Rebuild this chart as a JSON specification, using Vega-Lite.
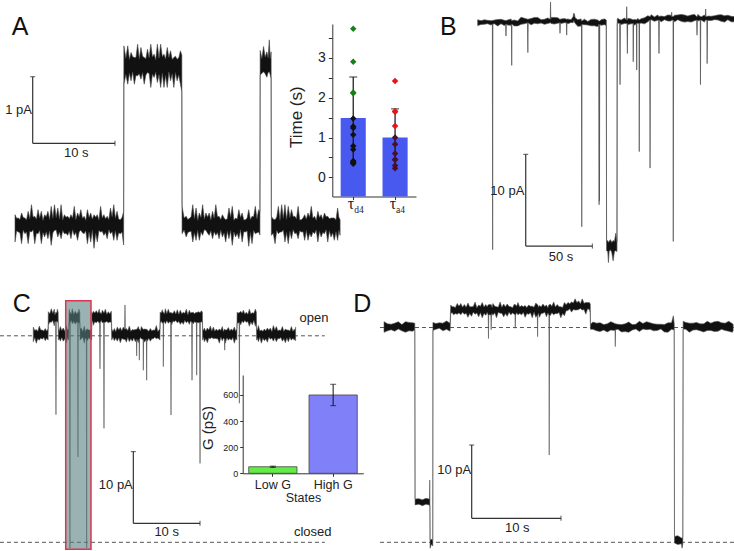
{
"$schema":"https://vega.github.io/schema/vega-lite/v6.json",
"width":734,"height":551,"autosize":{"type":"none"},"padding":0,
"config":{"view":{"stroke":null},"text":{"font":"Liberation Sans"},"axis":{"labelFont":"Liberation Sans","titleFont":"Liberation Sans","grid":false}},
"datasets":{
"A":[{"t":0,"i":-0.255,"i2":0.155},{"t":0.4,"i":-0.105,"i2":0.105},{"t":0.8,"i":-0.28,"i2":0.18},{"t":1.2,"i":-0.13,"i2":0.105},{"t":1.6,"i":-0.28,"i2":0.205},{"t":2,"i":-0.105,"i2":0.305},{"t":2.4,"i":-0.28,"i2":0.13},{"t":2.8,"i":-0.13,"i2":0.23},{"t":3.2,"i":-0.28,"i2":0.205},{"t":3.6,"i":-0.18,"i2":0.155},{"t":4,"i":-0.205,"i2":0.205},{"t":4.4,"i":-0.305,"i2":0.28},{"t":4.8,"i":-0.08,"i2":0.305},{"t":5.2,"i":-0.18,"i2":0.255},{"t":5.6,"i":-0.205,"i2":0.305},{"t":6,"i":-0.13,"i2":0.155},{"t":6.4,"i":-0.155,"i2":0.13},{"t":6.8,"i":-0.205,"i2":0.155},{"t":7.2,"i":-0.155,"i2":0.28},{"t":7.6,"i":-0.23,"i2":0.18},{"t":8,"i":-0.08,"i2":0.23},{"t":8.4,"i":-0.13,"i2":0.13},{"t":8.8,"i":-0.28,"i2":0.23},{"t":9.2,"i":-0.255,"i2":0.18},{"t":9.6,"i":-0.35,"i2":0.155},{"t":10,"i":-0.255,"i2":0.155},{"t":10.4,"i":-0.105,"i2":0.28},{"t":10.8,"i":-0.155,"i2":0.155},{"t":11.2,"i":-0.205,"i2":0.13},{"t":11.6,"i":-0.13,"i2":0.255},{"t":12,"i":-0.23,"i2":0.305},{"t":12.4,"i":-0.23,"i2":0.205},{"t":12.8,"i":-0.13,"i2":0.08},{"t":13.2,"i":-0.3,"i2":0.2},
{"t":13.23,"i":2.115,"i2":2.69},{"t":13.7,"i":2.115,"i2":2.69},{"t":14.1,"i":2.165,"i2":2.59},{"t":14.5,"i":2.115,"i2":2.515},{"t":14.9,"i":2.24,"i2":2.715},{"t":15.3,"i":2.19,"i2":2.665},{"t":15.7,"i":2.115,"i2":2.515},{"t":16.1,"i":2.29,"i2":2.64},{"t":16.5,"i":2.065,"i2":2.715},{"t":16.9,"i":2.215,"i2":2.565},{"t":17.3,"i":2.14,"i2":2.715},{"t":17.7,"i":2.065,"i2":2.715},{"t":18.1,"i":2.065,"i2":2.565},{"t":18.5,"i":2.065,"i2":2.665},{"t":18.9,"i":2.165,"i2":2.615},{"t":19.3,"i":2.065,"i2":2.515},{"t":19.7,"i":2.165,"i2":2.49},{"t":20.1,"i":2.115,"i2":2.615},{"t":20.27,"i":2.0,"i2":2.55},
{"t":20.3,"i":-0.13,"i2":0.28},{"t":20.8,"i":-0.18,"i2":0.13},{"t":21.2,"i":-0.1,"i2":0.1},{"t":21.6,"i":-0.255,"i2":0.305},{"t":22,"i":-0.23,"i2":0.255},{"t":22.4,"i":-0.23,"i2":0.18},{"t":22.8,"i":-0.155,"i2":0.305},{"t":23.2,"i":-0.08,"i2":0.18},{"t":23.6,"i":-0.155,"i2":0.18},{"t":24,"i":-0.205,"i2":0.205},{"t":24.4,"i":-0.155,"i2":0.305},{"t":24.8,"i":-0.205,"i2":0.13},{"t":25.2,"i":-0.18,"i2":0.155},{"t":25.6,"i":-0.255,"i2":0.08},{"t":26,"i":-0.205,"i2":0.255},{"t":26.4,"i":-0.305,"i2":0.28},{"t":26.8,"i":-0.18,"i2":0.105},{"t":27.2,"i":-0.205,"i2":0.23},{"t":27.6,"i":-0.255,"i2":0.18},{"t":28,"i":-0.105,"i2":0.08},{"t":28.4,"i":-0.32,"i2":0.23},{"t":28.8,"i":-0.28,"i2":0.13},{"t":29.2,"i":-0.13,"i2":0.28},{"t":29.6,"i":-0.105,"i2":0.23},{"t":29.76,"i":-0.15,"i2":0.2},
{"t":29.79,"i":2.25,"i2":2.62},{"t":30.2,"i":2.3,"i2":2.68},{"t":30.6,"i":2.22,"i2":2.6},{"t":30.9,"i":2.3,"i2":2.78},{"t":31.12,"i":2.2,"i2":2.6},
{"t":31.15,"i":-0.155,"i2":0.13},{"t":31.6,"i":-0.28,"i2":0.08},{"t":32,"i":-0.13,"i2":0.28},{"t":32.4,"i":-0.105,"i2":0.305},{"t":32.8,"i":-0.255,"i2":0.305},{"t":33.2,"i":-0.28,"i2":0.28},{"t":33.6,"i":-0.205,"i2":0.23},{"t":34,"i":-0.13,"i2":0.13},{"t":34.4,"i":-0.205,"i2":0.28},{"t":34.8,"i":-0.105,"i2":0.08},{"t":35.2,"i":-0.23,"i2":0.155},{"t":35.6,"i":-0.23,"i2":0.18},{"t":36,"i":-0.18,"i2":0.28},{"t":36.4,"i":-0.13,"i2":0.13},{"t":36.8,"i":-0.255,"i2":0.205},{"t":37.2,"i":-0.18,"i2":0.155},{"t":37.6,"i":-0.13,"i2":0.18},{"t":38,"i":-0.255,"i2":0.13},{"t":38.4,"i":-0.18,"i2":0.105},{"t":38.8,"i":-0.23,"i2":0.105},{"t":39.2,"i":-0.23,"i2":0.255},{"t":39.5,"i":-0.155,"i2":0.08},
{"t":0.2,"i":-0.088,"i2":0.1},{"t":0.6,"i":-0.118,"i2":0.082},{"t":1.0,"i":-0.076,"i2":0.112},{"t":1.4,"i":-0.106,"i2":0.076},{"t":1.8,"i":-0.094,"i2":0.094},{"t":2.2,"i":-0.07,"i2":0.118},{"t":2.6,"i":-0.124,"i2":0.088},{"t":3.0,"i":-0.082,"i2":0.106},{"t":3.4,"i":-0.112,"i2":0.07},{"t":3.8,"i":-0.1,"i2":0.124},{"t":4.2,"i":-0.088,"i2":0.082},{"t":4.6,"i":-0.118,"i2":0.1},{"t":5.0,"i":-0.076,"i2":0.112},{"t":5.4,"i":-0.106,"i2":0.088},{"t":5.8,"i":-0.082,"i2":0.076},{"t":6.2,"i":-0.124,"i2":0.118},{"t":6.6,"i":-0.094,"i2":0.094},{"t":7.0,"i":-0.07,"i2":0.106},{"t":7.4,"i":-0.112,"i2":0.082},{"t":7.8,"i":-0.1,"i2":0.124},{"t":8.2,"i":-0.118,"i2":0.1},{"t":8.6,"i":-0.088,"i2":0.07},{"t":9.0,"i":-0.106,"i2":0.112},{"t":9.4,"i":-0.076,"i2":0.088},{"t":9.8,"i":-0.124,"i2":0.118},{"t":10.2,"i":-0.082,"i2":0.076},{"t":10.6,"i":-0.094,"i2":0.106},{"t":11.0,"i":-0.112,"i2":0.094},{"t":11.4,"i":-0.07,"i2":0.082},{"t":11.8,"i":-0.1,"i2":0.124},{"t":12.2,"i":-0.088,"i2":0.1},{"t":12.6,"i":-0.118,"i2":0.088},{"t":13.0,"i":-0.106,"i2":0.112},
{"t":13.47,"i":2.258,"i2":2.504},{"t":13.9,"i":2.282,"i2":2.486},{"t":14.3,"i":2.3,"i2":2.528},{"t":14.7,"i":2.246,"i2":2.516},{"t":15.1,"i":2.27,"i2":2.492},{"t":15.5,"i":2.288,"i2":2.534},{"t":15.9,"i":2.252,"i2":2.498},{"t":16.3,"i":2.276,"i2":2.51},{"t":16.7,"i":2.264,"i2":2.522},{"t":17.1,"i":2.294,"i2":2.48},{"t":17.5,"i":2.258,"i2":2.504},{"t":17.9,"i":2.282,"i2":2.528},{"t":18.3,"i":2.246,"i2":2.492},{"t":18.7,"i":2.3,"i2":2.516},{"t":19.1,"i":2.27,"i2":2.486},{"t":19.5,"i":2.288,"i2":2.534},{"t":19.9,"i":2.252,"i2":2.51},
{"t":20.55,"i":-0.076,"i2":0.106},{"t":21.0,"i":-0.112,"i2":0.082},{"t":21.4,"i":-0.094,"i2":0.124},{"t":21.8,"i":-0.118,"i2":0.094},{"t":22.2,"i":-0.082,"i2":0.07},{"t":22.6,"i":-0.106,"i2":0.112},{"t":23.0,"i":-0.07,"i2":0.088},{"t":23.4,"i":-0.124,"i2":0.118},{"t":23.8,"i":-0.088,"i2":0.076},{"t":24.2,"i":-0.1,"i2":0.1},{"t":24.6,"i":-0.112,"i2":0.124},{"t":25.0,"i":-0.076,"i2":0.082},{"t":25.4,"i":-0.118,"i2":0.106},{"t":25.8,"i":-0.094,"i2":0.094},{"t":26.2,"i":-0.082,"i2":0.118},{"t":26.6,"i":-0.106,"i2":0.07},{"t":27.0,"i":-0.124,"i2":0.088},{"t":27.4,"i":-0.07,"i2":0.112},{"t":27.8,"i":-0.1,"i2":0.076},{"t":28.2,"i":-0.088,"i2":0.1},{"t":28.6,"i":-0.112,"i2":0.082},{"t":29.0,"i":-0.082,"i2":0.124},{"t":29.4,"i":-0.118,"i2":0.094},
{"t":30.0,"i":2.28,"i2":2.5},{"t":30.4,"i":2.27,"i2":2.52},{"t":30.75,"i":2.29,"i2":2.51},{"t":31.0,"i":2.26,"i2":2.5},
{"t":31.38,"i":-0.124,"i2":0.088},{"t":31.8,"i":-0.082,"i2":0.118},{"t":32.2,"i":-0.106,"i2":0.07},{"t":32.6,"i":-0.076,"i2":0.1},{"t":33.0,"i":-0.112,"i2":0.082},{"t":33.4,"i":-0.094,"i2":0.112},{"t":33.8,"i":-0.07,"i2":0.124},{"t":34.2,"i":-0.118,"i2":0.094},{"t":34.6,"i":-0.088,"i2":0.076},{"t":35.0,"i":-0.1,"i2":0.106},{"t":35.4,"i":-0.082,"i2":0.088},{"t":35.8,"i":-0.124,"i2":0.118},{"t":36.2,"i":-0.106,"i2":0.1},{"t":36.6,"i":-0.076,"i2":0.07},{"t":37.0,"i":-0.094,"i2":0.112},{"t":37.4,"i":-0.112,"i2":0.082},{"t":37.8,"i":-0.07,"i2":0.124},{"t":38.2,"i":-0.088,"i2":0.094},{"t":38.6,"i":-0.118,"i2":0.106},{"t":39.0,"i":-0.1,"i2":0.076},{"t":39.35,"i":-0.082,"i2":0.118}],
"B":[{"t":0,"i":-0.36,"i2":0.27},{"t":2.5,"i":-0.24,"i2":0.18},{"t":5,"i":-0.21,"i2":0.27},{"t":7.5,"i":-0.15,"i2":0.21},{"t":10,"i":-0.3,"i2":0.18},{"t":11,"i":-0.2,"i2":0.2},{"t":11.2,"i":-24.8,"i2":0.2},{"t":11.4,"i":-0.2,"i2":0.2},{"t":12.5,"i":-0.15,"i2":0.24},{"t":15,"i":-0.39,"i2":0.3},{"t":17.5,"i":-0.15,"i2":0.33},{"t":20,"i":-0.36,"i2":0.21},{"t":21,"i":-0.2,"i2":0.2},{"t":21.2,"i":-1.5,"i2":0.2},{"t":21.4,"i":-0.2,"i2":0.2},{"t":22.5,"i":-0.3,"i2":0.24},{"t":25,"i":-0.33,"i2":0.36},{"t":25.3,"i":-0.2,"i2":0.2},{"t":25.5,"i":-4.7,"i2":0.2},{"t":25.7,"i":-0.2,"i2":0.2},{"t":27.5,"i":-0.39,"i2":0.24},{"t":30,"i":-0.39,"i2":0.15},{"t":32.5,"i":-0.22,"i2":0.56},{"t":35,"i":-0.16,"i2":0.44},{"t":37.4,"i":-0.06,"i2":0.34},{"t":37.6,"i":-3.3,"i2":0.34},{"t":37.8,"i":-0.06,"i2":0.34},{"t":40,"i":-0.28,"i2":0.41},{"t":42.5,"i":-0.1,"i2":0.53},{"t":45,"i":-0.16,"i2":0.53},{"t":47.5,"i":-0.07,"i2":0.29},{"t":50,"i":-0.22,"i2":0.32},{"t":52.5,"i":-0.13,"i2":0.47},{"t":54.4,"i":-0.06,"i2":0.34},{"t":54.6,"i":-0.06,"i2":2.2},{"t":54.8,"i":-0.06,"i2":0.34},{"t":55,"i":-0.13,"i2":0.53},{"t":57.5,"i":-0.19,"i2":0.53},{"t":60,"i":-0.1,"i2":0.5},{"t":61.5,"i":-0.06,"i2":0.34},{"t":61.7,"i":-1.2,"i2":0.34},{"t":61.9,"i":-0.06,"i2":0.34},{"t":62.5,"i":-0.13,"i2":0.35},{"t":65,"i":-0.04,"i2":0.41},{"t":66.5,"i":-0.06,"i2":0.34},{"t":66.7,"i":-1.4,"i2":0.34},{"t":66.9,"i":-0.06,"i2":0.34},{"t":67.5,"i":-0.16,"i2":0.35},{"t":70,"i":-0.01,"i2":0.29},{"t":71.5,"i":-0.05,"i2":0.6},{"t":72,"i":0.2,"i2":1.0},{"t":72.5,"i":0.0,"i2":0.9},{"t":73,"i":-0.1,"i2":0.5},{"t":75,"i":-0.44,"i2":0.28},{"t":77.5,"i":-0.41,"i2":0.37},{"t":77.8,"i":-0.25,"i2":0.15},{"t":78,"i":-22.3,"i2":0.15},{"t":78.2,"i":-0.25,"i2":0.15},{"t":80,"i":-0.26,"i2":0.34},{"t":82.5,"i":-0.29,"i2":0.1},{"t":85,"i":-0.38,"i2":0.31},{"t":87.5,"i":-0.38,"i2":0.34},{"t":90,"i":-0.47,"i2":0.25},{"t":90.8,"i":-0.25,"i2":0.15},{"t":91,"i":-19.9,"i2":0.15},{"t":91.15,"i":-0.25,"i2":0.15},{"t":91.3,"i":-19.5,"i2":0.15},{"t":91.5,"i":-0.25,"i2":0.15},{"t":92.5,"i":-0.32,"i2":0.28},{"t":95,"i":-0.26,"i2":0.37},{"t":96.4,"i":-0.35,"i2":0.25},{"t":96.6,"i":-24.9,"i2":-23.9},{"t":97.5,"i":-25.0,"i2":-23.8},{"t":98,"i":-26.2,"i2":-24.0},{"t":98.5,"i":-25.0,"i2":-23.9},{"t":99.5,"i":-24.8,"i2":-23.7},{"t":100.5,"i":-25.1,"i2":-24.0},{"t":101.5,"i":-26.0,"i2":-23.8},{"t":102.5,"i":-25.0,"i2":-23.9},{"t":103.5,"i":-24.9,"i2":-23.0},{"t":104.4,"i":-25.0,"i2":-23.9},{"t":104.6,"i":-0.15,"i2":0.35},{"t":105,"i":-0.08,"i2":0.43},{"t":106.5,"i":-0.13,"i2":0.27},{"t":106.7,"i":-6.8,"i2":0.27},{"t":106.9,"i":-0.13,"i2":0.27},{"t":107.5,"i":-0.23,"i2":0.25},{"t":110,"i":-0.14,"i2":0.46},{"t":111.5,"i":-0.13,"i2":0.27},{"t":111.7,"i":-0.13,"i2":1.7},{"t":111.9,"i":-0.13,"i2":0.27},{"t":112.2,"i":-3.4,"i2":0.27},{"t":112.4,"i":-0.13,"i2":0.27},{"t":112.5,"i":-0.23,"i2":0.43},{"t":115,"i":-0.17,"i2":0.37},{"t":116.4,"i":-0.13,"i2":0.27},{"t":116.6,"i":-4.3,"i2":0.27},{"t":116.8,"i":-0.13,"i2":0.27},{"t":117.5,"i":-0.32,"i2":0.31},{"t":119,"i":-0.13,"i2":0.27},{"t":119.2,"i":-5.2,"i2":0.27},{"t":119.4,"i":-0.13,"i2":0.27},{"t":120,"i":-0.11,"i2":0.43},{"t":120.9,"i":-0.13,"i2":0.27},{"t":121.1,"i":-14.1,"i2":0.27},{"t":121.3,"i":-0.13,"i2":0.27},{"t":122.5,"i":-0.08,"i2":0.4},{"t":125,"i":-0.17,"i2":0.49},{"t":127.5,"i":0.05,"i2":0.71},{"t":129,"i":0.24,"i2":0.64},{"t":129.2,"i":-15.9,"i2":0.64},{"t":129.4,"i":0.24,"i2":0.64},{"t":130,"i":0.29,"i2":0.83},{"t":132.5,"i":0.11,"i2":0.59},{"t":135,"i":0.23,"i2":0.8},{"t":135.7,"i":0.24,"i2":0.64},{"t":135.9,"i":-3.4,"i2":0.64},{"t":136.1,"i":0.24,"i2":0.64},{"t":137.5,"i":0.05,"i2":0.68},{"t":140,"i":0.29,"i2":0.62},{"t":142.5,"i":0.14,"i2":0.8},{"t":145,"i":0.14,"i2":0.77},{"t":145.2,"i":0.24,"i2":0.64},{"t":145.4,"i":0.24,"i2":1.1},{"t":145.6,"i":0.24,"i2":0.64},{"t":146.4,"i":0.24,"i2":0.64},{"t":146.6,"i":-23.9,"i2":0.64},{"t":146.8,"i":0.24,"i2":0.64},{"t":147.5,"i":0.05,"i2":0.77},{"t":150,"i":0.29,"i2":0.8},{"t":152.5,"i":0.11,"i2":0.86},{"t":155,"i":0.02,"i2":0.8},{"t":157.5,"i":0.08,"i2":0.68},{"t":160,"i":0.02,"i2":0.8},{"t":162.5,"i":0.17,"i2":0.86},{"t":164.2,"i":0.24,"i2":0.64},{"t":164.4,"i":-1.4,"i2":0.64},{"t":164.6,"i":0.24,"i2":0.64},{"t":165,"i":0.14,"i2":0.86},{"t":166.8,"i":0.24,"i2":0.64},{"t":167,"i":-6.8,"i2":0.64},{"t":167.2,"i":0.24,"i2":0.64},{"t":167.5,"i":0.26,"i2":0.59},{"t":170,"i":0.02,"i2":0.8},{"t":170.7,"i":0.24,"i2":0.64},{"t":170.9,"i":0.24,"i2":1.45},{"t":171.1,"i":0.24,"i2":0.64},{"t":171.8,"i":0.24,"i2":0.64},{"t":172,"i":-4.5,"i2":0.64},{"t":172.2,"i":0.24,"i2":0.64},{"t":172.5,"i":0.2,"i2":0.68},{"t":175,"i":0.2,"i2":0.65},{"t":177.5,"i":0.29,"i2":0.71},{"t":180,"i":0.26,"i2":0.8},{"t":182.5,"i":0.11,"i2":0.83},{"t":185,"i":0.02,"i2":0.71},{"t":187.5,"i":0.29,"i2":0.77},{"t":190,"i":0.05,"i2":0.65},{"t":192.5,"i":0.05,"i2":0.62}],
"C":[{"t":0,"i":27.98,"i2":30.02},{"t":0.45,"i":27.77,"i2":29.67},{"t":0.9,"i":28.19,"i2":30.16},{"t":1.35,"i":28.33,"i2":29.6},{"t":1.8,"i":28.12,"i2":29.81},{"t":2.22,"i":28.2,"i2":29.8},{"t":2.25,"i":30.26,"i2":32.16},{"t":2.7,"i":30.68,"i2":32.58},{"t":3.15,"i":30.19,"i2":32.51},{"t":3.36,"i":30.65,"i2":32.05},{"t":3.4,"i":17.8,"i2":32.05},{"t":3.44,"i":30.65,"i2":32.05},{"t":3.6,"i":30.75,"i2":32.51},{"t":3.73,"i":30.6,"i2":32.1},{"t":3.76,"i":28.2,"i2":29.8},{"t":4.05,"i":28.05,"i2":30.09},{"t":4.5,"i":28.05,"i2":29.88},{"t":4.95,"i":27.77,"i2":30.23},{"t":5.33,"i":28.2,"i2":29.8},{"t":5.36,"i":30.6,"i2":32.1},{"t":5.4,"i":30.12,"i2":32.51},{"t":5.46,"i":30.65,"i2":32.05},{"t":5.5,"i":-0.8,"i2":32.05},{"t":5.54,"i":30.65,"i2":32.05},{"t":5.85,"i":30.47,"i2":32.58},{"t":6.3,"i":30.4,"i2":32.23},{"t":6.66,"i":30.65,"i2":32.05},{"t":6.7,"i":11.9,"i2":32.05},{"t":6.74,"i":30.65,"i2":32.05},{"t":6.85,"i":30.54,"i2":32.51},{"t":6.98,"i":30.6,"i2":32.1},{"t":7.01,"i":28.2,"i2":29.8},{"t":7.2,"i":28.4,"i2":29.88},{"t":7.65,"i":27.77,"i2":30.16},{"t":7.96,"i":28.3,"i2":29.7},{"t":8,"i":-0.8,"i2":29.7},{"t":8.04,"i":28.3,"i2":29.7},{"t":8.1,"i":28.12,"i2":29.74},{"t":8.55,"i":28.33,"i2":29.6},{"t":8.74,"i":28.2,"i2":29.8},{"t":8.77,"i":30.6,"i2":32.1},{"t":9,"i":30.26,"i2":32.23},{"t":9.45,"i":30.61,"i2":32.3},{"t":9.9,"i":30.54,"i2":32.51},{"t":9.96,"i":30.65,"i2":32.05},{"t":10,"i":24.2,"i2":32.05},{"t":10.04,"i":30.65,"i2":32.05},{"t":10.35,"i":30.61,"i2":32.37},{"t":10.56,"i":30.65,"i2":32.05},{"t":10.6,"i":15.9,"i2":32.05},{"t":10.64,"i":30.65,"i2":32.05},{"t":10.8,"i":30.68,"i2":32.51},{"t":11.25,"i":30.61,"i2":32.16},{"t":11.7,"i":30.68,"i2":32.23},{"t":11.76,"i":28.2,"i2":29.8},{"t":12.15,"i":28.12,"i2":29.81},{"t":12.6,"i":28.05,"i2":30.02},{"t":13.05,"i":27.84,"i2":29.95},{"t":13.5,"i":28.33,"i2":30.02},{"t":13.71,"i":28.3,"i2":29.7},{"t":13.75,"i":28.3,"i2":33.1},{"t":13.79,"i":28.3,"i2":29.7},{"t":13.95,"i":27.91,"i2":29.81},{"t":14.4,"i":27.98,"i2":30.16},{"t":14.85,"i":28.05,"i2":29.67},{"t":15.3,"i":27.98,"i2":29.67},{"t":15.46,"i":28.3,"i2":29.7},{"t":15.5,"i":26.0,"i2":29.7},{"t":15.54,"i":28.3,"i2":29.7},{"t":15.75,"i":27.84,"i2":30.09},{"t":15.86,"i":28.3,"i2":29.7},{"t":15.9,"i":25.4,"i2":29.7},{"t":15.94,"i":28.3,"i2":29.7},{"t":16.2,"i":28.4,"i2":30.09},{"t":16.46,"i":28.3,"i2":29.7},{"t":16.5,"i":24.0,"i2":29.7},{"t":16.54,"i":28.3,"i2":29.7},{"t":16.65,"i":27.91,"i2":29.74},{"t":16.96,"i":28.3,"i2":29.7},{"t":17,"i":22.6,"i2":29.7},{"t":17.04,"i":28.3,"i2":29.7},{"t":17.1,"i":28.05,"i2":29.6},{"t":17.55,"i":28.05,"i2":29.81},{"t":18,"i":28.4,"i2":29.6},{"t":18.45,"i":28.4,"i2":30.23},{"t":18.9,"i":28.33,"i2":29.67},{"t":18.99,"i":28.2,"i2":29.8},{"t":19.02,"i":30.6,"i2":32.1},{"t":19.35,"i":30.54,"i2":32.44},{"t":19.46,"i":30.65,"i2":32.05},{"t":19.5,"i":24.5,"i2":32.05},{"t":19.54,"i":30.65,"i2":32.05},{"t":19.8,"i":30.47,"i2":32.58},{"t":20.25,"i":30.54,"i2":32.51},{"t":20.61,"i":30.65,"i2":32.05},{"t":20.65,"i":17.75,"i2":32.05},{"t":20.69,"i":30.65,"i2":32.05},{"t":20.75,"i":30.33,"i2":31.95},{"t":21.15,"i":30.75,"i2":32.3},{"t":21.6,"i":30.61,"i2":32.44},{"t":22.05,"i":30.4,"i2":32.37},{"t":22.5,"i":30.4,"i2":32.09},{"t":22.95,"i":30.61,"i2":32.51},{"t":23.4,"i":30.4,"i2":32.37},{"t":23.76,"i":30.65,"i2":32.05},{"t":23.8,"i":22.6,"i2":32.05},{"t":23.84,"i":30.65,"i2":32.05},{"t":24,"i":30.47,"i2":32.09},{"t":24.3,"i":30.68,"i2":32.02},{"t":24.46,"i":30.65,"i2":32.05},{"t":24.5,"i":23.3,"i2":32.05},{"t":24.54,"i":30.65,"i2":32.05},{"t":24.75,"i":30.61,"i2":32.16},{"t":24.96,"i":30.65,"i2":32.05},{"t":25,"i":11.0,"i2":32.05},{"t":25.04,"i":30.65,"i2":32.05},{"t":25.2,"i":30.75,"i2":32.3},{"t":25.36,"i":30.6,"i2":32.1},{"t":25.39,"i":28.2,"i2":29.8},{"t":25.65,"i":27.98,"i2":29.88},{"t":26.1,"i":27.84,"i2":29.88},{"t":26.55,"i":28.4,"i2":30.16},{"t":27,"i":28.4,"i2":30.02},{"t":27.45,"i":28.4,"i2":29.74},{"t":27.9,"i":27.77,"i2":29.74},{"t":28.35,"i":28.12,"i2":30.09},{"t":28.66,"i":28.3,"i2":29.7},{"t":28.7,"i":26.8,"i2":29.7},{"t":28.74,"i":28.3,"i2":29.7},{"t":28.8,"i":27.77,"i2":29.6},{"t":29.25,"i":28.19,"i2":29.95},{"t":29.7,"i":28.19,"i2":29.74},{"t":30.15,"i":27.77,"i2":30.02},{"t":30.53,"i":28.2,"i2":29.8},{"t":30.56,"i":30.6,"i2":32.1},{"t":30.7,"i":30.54,"i2":31.95},{"t":30.86,"i":30.65,"i2":32.05},{"t":30.9,"i":19.4,"i2":32.05},{"t":30.94,"i":30.65,"i2":32.05},{"t":31.1,"i":30.33,"i2":32.23},{"t":31.5,"i":30.61,"i2":32.37},{"t":31.95,"i":30.68,"i2":32.09},{"t":32.4,"i":30.12,"i2":32.51},{"t":32.85,"i":30.33,"i2":32.02},{"t":33.3,"i":30.12,"i2":32.51},{"t":33.45,"i":30.6,"i2":32.1},{"t":33.48,"i":28.2,"i2":29.8},{"t":33.75,"i":27.98,"i2":30.23},{"t":34.2,"i":27.77,"i2":29.6},{"t":34.65,"i":28.12,"i2":29.74},{"t":35.1,"i":27.91,"i2":29.88},{"t":35.55,"i":28.33,"i2":29.88},{"t":36,"i":28.05,"i2":30.23},{"t":36.45,"i":27.98,"i2":30.09},{"t":36.9,"i":28.4,"i2":29.6},{"t":37.35,"i":28.05,"i2":30.09},{"t":37.8,"i":27.84,"i2":29.74},{"t":38.25,"i":27.98,"i2":29.6},{"t":38.7,"i":28.19,"i2":30.09},{"t":39.15,"i":28.19,"i2":29.74},{"t":39.34,"i":28.1,"i2":30.0},
{"t":0.22,"i":28.55,"i2":29.55},{"t":0.67,"i":28.4,"i2":29.42},{"t":1.12,"i":28.5,"i2":29.6},{"t":1.57,"i":28.58,"i2":29.48},{"t":2.0,"i":28.45,"i2":29.45},{"t":2.47,"i":30.73,"i2":31.87},{"t":2.92,"i":30.95,"i2":31.93},{"t":3.25,"i":30.83,"i2":31.75},{"t":3.52,"i":30.87,"i2":31.97},{"t":3.9,"i":28.42,"i2":29.5},{"t":4.27,"i":28.55,"i2":29.55},{"t":4.72,"i":28.4,"i2":29.42},{"t":5.14,"i":28.5,"i2":29.6},{"t":5.7,"i":30.93,"i2":31.83},{"t":6.07,"i":30.8,"i2":31.8},{"t":6.5,"i":30.73,"i2":31.87},{"t":7.42,"i":28.6,"i2":29.4},{"t":7.8,"i":28.48,"i2":29.4},{"t":8.32,"i":28.52,"i2":29.62},{"t":8.64,"i":28.42,"i2":29.5},{"t":8.88,"i":30.9,"i2":31.9},{"t":9.22,"i":30.75,"i2":31.97},{"t":9.67,"i":30.85,"i2":31.95},{"t":10.2,"i":30.93,"i2":31.83},{"t":11.02,"i":30.8,"i2":31.8},{"t":11.47,"i":30.73,"i2":31.87},{"t":11.95,"i":28.6,"i2":29.4},{"t":12.37,"i":28.48,"i2":29.4},{"t":12.82,"i":28.52,"i2":29.62},{"t":13.27,"i":28.42,"i2":29.5},{"t":14.17,"i":28.55,"i2":29.55},{"t":14.62,"i":28.4,"i2":29.42},{"t":15.07,"i":28.5,"i2":29.6},{"t":16.07,"i":28.58,"i2":29.48},{"t":17.32,"i":28.45,"i2":29.45},{"t":17.77,"i":28.38,"i2":29.52},{"t":18.22,"i":28.6,"i2":29.58},{"t":18.67,"i":28.48,"i2":29.4},{"t":19.18,"i":30.83,"i2":31.97},{"t":19.67,"i":30.77,"i2":31.85},{"t":20.02,"i":30.9,"i2":31.9},{"t":20.43,"i":30.75,"i2":31.97},{"t":20.95,"i":30.85,"i2":31.95},{"t":21.37,"i":30.93,"i2":31.83},{"t":21.82,"i":30.8,"i2":31.8},{"t":22.27,"i":30.73,"i2":31.87},{"t":22.72,"i":30.95,"i2":31.93},{"t":23.17,"i":30.83,"i2":31.75},{"t":23.58,"i":30.87,"i2":31.97},{"t":24.15,"i":30.77,"i2":31.85},{"t":25.52,"i":28.55,"i2":29.55},{"t":25.87,"i":28.4,"i2":29.42},{"t":26.32,"i":28.5,"i2":29.6},{"t":26.77,"i":28.58,"i2":29.48},{"t":27.22,"i":28.45,"i2":29.45},{"t":27.67,"i":28.38,"i2":29.52},{"t":28.12,"i":28.6,"i2":29.58},{"t":28.5,"i":28.48,"i2":29.4},{"t":29.02,"i":28.52,"i2":29.62},{"t":29.47,"i":28.42,"i2":29.5},{"t":29.92,"i":28.55,"i2":29.55},{"t":30.34,"i":28.4,"i2":29.42},{"t":31.3,"i":30.85,"i2":31.95},{"t":31.72,"i":30.93,"i2":31.83},{"t":32.17,"i":30.8,"i2":31.8},{"t":32.62,"i":30.73,"i2":31.87},{"t":33.07,"i":30.95,"i2":31.93},{"t":33.6,"i":28.5,"i2":29.6},{"t":33.97,"i":28.58,"i2":29.48},{"t":34.42,"i":28.45,"i2":29.45},{"t":34.87,"i":28.38,"i2":29.52},{"t":35.32,"i":28.6,"i2":29.58},{"t":35.77,"i":28.48,"i2":29.4},{"t":36.22,"i":28.52,"i2":29.62},{"t":36.67,"i":28.42,"i2":29.5},{"t":37.12,"i":28.55,"i2":29.55},{"t":37.57,"i":28.4,"i2":29.42},{"t":38.02,"i":28.5,"i2":29.6},{"t":38.47,"i":28.58,"i2":29.48},{"t":38.92,"i":28.45,"i2":29.45},{"t":39.25,"i":28.38,"i2":29.52}],
"D":[{"t":0,"i":28.65,"i2":30.1},{"t":0.4,"i":28.85,"i2":29.8},{"t":0.8,"i":29.0,"i2":29.75},{"t":1.2,"i":28.8,"i2":29.9},{"t":1.6,"i":29.1,"i2":30.1},{"t":2,"i":28.85,"i2":29.7},{"t":2.4,"i":28.65,"i2":30.1},{"t":2.8,"i":28.85,"i2":30.0},{"t":3.2,"i":28.8,"i2":29.95},{"t":3.45,"i":29.0,"i2":29.9},{"t":3.48,"i":5.1,"i2":5.9},{"t":3.9,"i":5.2,"i2":5.95},{"t":4.3,"i":5.0,"i2":5.8},{"t":4.7,"i":5.2,"i2":6.0},{"t":5.05,"i":5.1,"i2":5.9},{"t":5.1,"i":5.0,"i2":6.0},{"t":5.12,"i":5.0,"i2":8.5},{"t":5.14,"i":5.0,"i2":6.0},{"t":5.16,"i":-0.8,"i2":0.3},{"t":5.3,"i":-0.3,"i2":0.4},{"t":5.46,"i":-0.5,"i2":0.3},{"t":5.48,"i":28.9,"i2":30.0},{"t":5.8,"i":29.05,"i2":29.85},{"t":6.2,"i":29.2,"i2":29.95},{"t":6.6,"i":28.85,"i2":29.9},{"t":7,"i":29.05,"i2":30.2},{"t":7.4,"i":28.8,"i2":29.9},{"t":7.47,"i":31.18,"i2":32.36},{"t":7.8,"i":31.04,"i2":32.15},{"t":8.2,"i":31.11,"i2":32.57},{"t":8.6,"i":31.04,"i2":32.57},{"t":9,"i":31.11,"i2":32.43},{"t":9.4,"i":30.69,"i2":32.64},{"t":9.8,"i":30.83,"i2":32.15},{"t":10.2,"i":31.11,"i2":32.78},{"t":10.6,"i":30.76,"i2":32.36},{"t":11,"i":30.62,"i2":32.71},{"t":11.4,"i":30.97,"i2":32.43},{"t":11.67,"i":31.0,"i2":32.4},{"t":11.7,"i":27.8,"i2":32.4},{"t":11.73,"i":31.0,"i2":32.4},{"t":11.8,"i":31.04,"i2":32.43},{"t":11.97,"i":31.0,"i2":32.4},{"t":12,"i":29.0,"i2":32.4},{"t":12.03,"i":31.0,"i2":32.4},{"t":12.2,"i":30.97,"i2":32.57},{"t":12.6,"i":30.62,"i2":32.15},{"t":13,"i":31.25,"i2":32.78},{"t":13.4,"i":30.76,"i2":32.5},{"t":13.8,"i":30.83,"i2":32.5},{"t":14.2,"i":31.04,"i2":32.15},{"t":14.6,"i":31.11,"i2":32.5},{"t":14.67,"i":31.0,"i2":32.4},{"t":14.7,"i":29.2,"i2":32.4},{"t":14.73,"i":31.0,"i2":32.4},{"t":15,"i":31.04,"i2":32.71},{"t":15.4,"i":31.04,"i2":32.29},{"t":15.8,"i":30.69,"i2":32.29},{"t":16.2,"i":31.11,"i2":32.36},{"t":16.6,"i":30.62,"i2":32.22},{"t":17,"i":30.69,"i2":32.64},{"t":17.17,"i":31.0,"i2":32.4},{"t":17.2,"i":28.05,"i2":32.4},{"t":17.23,"i":31.0,"i2":32.4},{"t":17.4,"i":30.69,"i2":32.29},{"t":17.8,"i":31.25,"i2":32.5},{"t":18.2,"i":30.76,"i2":32.36},{"t":18.47,"i":31.0,"i2":32.4},{"t":18.5,"i":11.9,"i2":32.4},{"t":18.53,"i":31.0,"i2":32.4},{"t":18.6,"i":30.9,"i2":32.5},{"t":19,"i":31.04,"i2":32.78},{"t":19.4,"i":31.18,"i2":32.43},{"t":19.8,"i":30.62,"i2":32.15},{"t":20.2,"i":30.9,"i2":32.71},{"t":20.6,"i":31.61,"i2":32.72},{"t":21,"i":31.4,"i2":32.79},{"t":21.4,"i":31.68,"i2":33.21},{"t":21.8,"i":31.75,"i2":32.93},{"t":22.2,"i":31.68,"i2":33.21},{"t":22.6,"i":31.12,"i2":32.72},{"t":23,"i":31.75,"i2":32.72},{"t":23.1,"i":31.3,"i2":32.5},{"t":23.12,"i":29.05,"i2":29.75},{"t":23.4,"i":29.05,"i2":30.05},{"t":23.8,"i":28.85,"i2":29.9},{"t":24.2,"i":28.75,"i2":29.95},{"t":24.6,"i":28.95,"i2":29.7},{"t":25,"i":28.7,"i2":29.8},{"t":25.4,"i":28.95,"i2":30.1},{"t":25.8,"i":28.9,"i2":29.9},{"t":25.87,"i":29.0,"i2":29.8},{"t":25.9,"i":26.7,"i2":29.8},{"t":25.93,"i":29.0,"i2":29.8},{"t":26.2,"i":29.05,"i2":29.75},{"t":26.6,"i":28.7,"i2":29.7},{"t":27,"i":28.75,"i2":29.8},{"t":27.4,"i":28.65,"i2":30.05},{"t":27.8,"i":28.95,"i2":29.7},{"t":28.2,"i":29.1,"i2":29.75},{"t":28.6,"i":28.75,"i2":30.15},{"t":29,"i":29.1,"i2":29.85},{"t":29.4,"i":29.0,"i2":30.1},{"t":29.8,"i":29.05,"i2":29.95},{"t":30.2,"i":28.85,"i2":29.8},{"t":30.6,"i":28.9,"i2":29.75},{"t":31,"i":29.1,"i2":29.75},{"t":31.4,"i":28.7,"i2":29.7},{"t":31.8,"i":28.65,"i2":29.95},{"t":32.2,"i":29.05,"i2":29.95},{"t":32.4,"i":29.0,"i2":30.9},{"t":32.5,"i":29.0,"i2":29.8},{"t":32.53,"i":-0.1,"i2":0.8},{"t":32.9,"i":-0.3,"i2":0.9},{"t":33.3,"i":-0.2,"i2":0.6},{"t":33.38,"i":-0.8,"i2":0.6},{"t":33.46,"i":-0.2,"i2":0.7},{"t":33.5,"i":29.1,"i2":30.15},{"t":33.8,"i":29.05,"i2":30.0},{"t":34.2,"i":28.65,"i2":29.9},{"t":34.6,"i":28.95,"i2":29.9},{"t":35,"i":29.0,"i2":30.0},{"t":35.4,"i":28.85,"i2":29.8},{"t":35.8,"i":28.7,"i2":29.8},{"t":36.2,"i":28.9,"i2":30.15},{"t":36.6,"i":28.9,"i2":29.9},{"t":37,"i":28.75,"i2":30.1},{"t":37.4,"i":28.8,"i2":30.15},{"t":37.8,"i":29.05,"i2":29.95},{"t":38.2,"i":28.9,"i2":29.9},{"t":38.6,"i":28.8,"i2":30.15},{"t":39,"i":28.65,"i2":29.85},{"t":39.1,"i":28.85,"i2":29.7},
{"t":7.63,"i":31.35,"i2":32.15},{"t":8.0,"i":31.2,"i2":32.02},{"t":8.4,"i":31.3,"i2":32.2},{"t":8.8,"i":31.38,"i2":32.08},{"t":9.2,"i":31.25,"i2":32.05},{"t":9.6,"i":31.2,"i2":32.12},{"t":10.0,"i":31.4,"i2":32.18},{"t":10.4,"i":31.28,"i2":32.0},{"t":10.8,"i":31.32,"i2":32.2},{"t":11.2,"i":31.22,"i2":32.1},{"t":11.55,"i":31.35,"i2":32.15},{"t":12.1,"i":31.2,"i2":32.02},{"t":12.4,"i":31.3,"i2":32.2},{"t":12.8,"i":31.38,"i2":32.08},{"t":13.2,"i":31.25,"i2":32.05},{"t":13.6,"i":31.2,"i2":32.12},{"t":14.0,"i":31.4,"i2":32.18},{"t":14.4,"i":31.28,"i2":32.0},{"t":14.85,"i":31.32,"i2":32.2},{"t":15.2,"i":31.22,"i2":32.1},{"t":15.6,"i":31.35,"i2":32.15},{"t":16.0,"i":31.2,"i2":32.02},{"t":16.4,"i":31.3,"i2":32.2},{"t":16.8,"i":31.38,"i2":32.08},{"t":17.3,"i":31.25,"i2":32.05},{"t":17.6,"i":31.2,"i2":32.12},{"t":18.0,"i":31.4,"i2":32.18},{"t":18.35,"i":31.28,"i2":32.0},{"t":18.8,"i":31.32,"i2":32.2},{"t":19.2,"i":31.22,"i2":32.1},{"t":19.6,"i":31.35,"i2":32.15},{"t":20.0,"i":31.2,"i2":32.02},{"t":20.4,"i":31.6,"i2":32.4},{"t":20.8,"i":31.85,"i2":32.55},{"t":21.2,"i":31.75,"i2":32.65},{"t":21.6,"i":31.7,"i2":32.7},{"t":22.0,"i":31.9,"i2":32.55},{"t":22.4,"i":31.75,"i2":32.6},{"t":22.8,"i":31.85,"i2":32.7}],
"ann":[
{"p":"A","k":"bar","t":2.15,"i":1.227,"t2":2.15,"i2":2.227},{"p":"A","k":"bar","t":2.15,"i":1.227,"t2":12.15,"i2":1.227},{"p":"A","k":"capH","t":2.15,"i":2.227},{"p":"A","k":"capV","t":12.15,"i":1.227},{"p":"A","k":"letter","t":-0.4,"i":2.853,"s":"A"},{"p":"A","k":"label","t":0.43,"i":1.727,"s":"1 pA"},{"p":"A","k":"label","t":7.44,"i":1.077,"s":"10 s"},
{"p":"B","k":"bar","t":36,"i":-24.4,"t2":36,"i2":-14.4},{"p":"B","k":"bar","t":36,"i":-24.4,"t2":86,"i2":-24.4},{"p":"B","k":"capH","t":36,"i":-14.4},{"p":"B","k":"capV","t":86,"i":-24.4},{"p":"B","k":"letter","t":-28.26,"i":-1.385,"s":"B"},{"p":"B","k":"label","t":22.2,"i":-18.36,"s":"10 pA"},{"p":"B","k":"label","t":62.4,"i":-25.56,"s":"50 s"},
{"p":"C","k":"bar","t":15,"i":2.65,"t2":15,"i2":12.65},{"p":"C","k":"bar","t":15,"i":2.65,"t2":25,"i2":2.65},{"p":"C","k":"capH","t":15,"i":12.65},{"p":"C","k":"capV","t":25,"i":2.65},{"p":"C","k":"letter","t":-3.09,"i":32.16,"s":"C"},{"p":"C","k":"label","t":12.37,"i":7.99,"s":"10 pA"},{"p":"C","k":"label","t":20.0,"i":1.39,"s":"10 s"},{"p":"C","k":"label","t":42.1,"i":31.3,"s":"open"},{"p":"C","k":"label","t":41.9,"i":1.48,"s":"closed"},{"p":"C","k":"dash","t":-5,"t2":43.7,"i":28.8},{"p":"C","k":"dash","t":-5,"t2":43.7,"i":0},{"p":"C","k":"box","t":4.86,"t2":8.65,"i":-0.98,"i2":33.7},
{"p":"D","k":"bar","t":9.82,"i":3.27,"t2":9.82,"i2":13.27},{"p":"D","k":"bar","t":9.82,"i":3.27,"t2":19.82,"i2":3.27},{"p":"D","k":"capH","t":9.82,"i":13.27},{"p":"D","k":"capV","t":19.82,"i":3.27},{"p":"D","k":"letter","t":-3.44,"i":31.46,"s":"D"},{"p":"D","k":"label","t":7.86,"i":9.86,"s":"10 pA"},{"p":"D","k":"label","t":14.93,"i":1.91,"s":"10 s"},{"p":"D","k":"dash","t":-0.45,"t2":39.2,"i":29.3},{"p":"D","k":"dash","t":-0.45,"t2":39.2,"i":0}],
"Abar":[{"c":"d","v":1.49,"lo":0.44,"hi":2.52,"sub":"d4"},{"c":"a","v":1.0,"lo":0.23,"hi":1.72,"sub":"a4"}],
"Apts":[{"c":"d","v":3.73,"g":"g"},{"c":"d","v":2.9,"g":"g"},{"c":"d","v":2.11,"g":"g"},{"c":"d","v":2.13,"g":"g"},{"c":"d","v":1.48,"g":"k"},{"c":"d","v":1.28,"g":"k"},{"c":"d","v":1.24,"g":"k"},{"c":"d","v":1.07,"g":"k"},{"c":"d","v":0.79,"g":"k"},{"c":"d","v":0.7,"g":"k"},{"c":"d","v":0.41,"g":"k"},{"c":"d","v":0.37,"g":"k"},{"c":"d","v":0.34,"g":"k"},{"c":"d","v":0.385,"g":"k"},{"c":"a","v":2.42,"g":"r"},{"c":"a","v":1.65,"g":"r"},{"c":"a","v":1.66,"g":"r"},{"c":"a","v":1.29,"g":"r"},{"c":"a","v":1.0,"g":"m"},{"c":"a","v":0.83,"g":"m"},{"c":"a","v":0.6,"g":"m"},{"c":"a","v":0.45,"g":"m"},{"c":"a","v":0.44,"g":"m"},{"c":"a","v":0.3,"g":"m"},{"c":"a","v":0.23,"g":"m"}],
"Cbar":[{"c":"Low G","v":50,"lo":45,"hi":55},{"c":"High G","v":600,"lo":518,"hi":682}]
},
"layer":[
{"encoding":{"x":{"field":"t","type":"quantitative","scale":{"domain":[0,40],"range":[15,344.2],"nice":false,"zero":false},"axis":null},"y":{"field":"i","type":"quantitative","scale":{"domain":[-1,3],"range":[291.6,25.2],"nice":false,"zero":false},"axis":null}},
 "layer":[
  {"data":{"name":"A"},"mark":{"type":"area","fill":"#111111","stroke":"#444444","strokeWidth":0.6},"encoding":{"y2":{"field":"i2"}}},
  {"data":{"name":"ann"},"transform":[{"filter":"datum.p==='A' && datum.k==='bar'"}],"mark":{"type":"rule","color":"#333333","strokeWidth":1.2},"encoding":{"x2":{"field":"t2"},"y2":{"field":"i2"}}},
  {"data":{"name":"ann"},"transform":[{"filter":"datum.p==='A' && datum.k==='capH'"}],"mark":{"type":"tick","orient":"horizontal","size":5,"thickness":1.2,"color":"#333333"}},
  {"data":{"name":"ann"},"transform":[{"filter":"datum.p==='A' && datum.k==='capV'"}],"mark":{"type":"tick","orient":"vertical","size":5,"thickness":1.2,"color":"#333333"}},
  {"data":{"name":"ann"},"transform":[{"filter":"datum.p==='A' && datum.k==='letter'"}],"mark":{"type":"text","fontSize":25,"align":"left","baseline":"alphabetic","color":"#111111"},"encoding":{"text":{"field":"s"}}},
  {"data":{"name":"ann"},"transform":[{"filter":"datum.p==='A' && datum.k==='label'"}],"mark":{"type":"text","fontSize":13,"align":"center","baseline":"middle","color":"#222222"},"encoding":{"text":{"field":"s"}}}
 ]},
{"encoding":{"x":{"field":"c","type":"nominal","sort":["d","a"],"scale":{"domain":["d","a"],"range":[332.3,416],"paddingInner":0.4,"paddingOuter":0.2},"axis":{"orient":"bottom","offset":-354.5,"labels":false,"title":null,"tickSize":3,"domainColor":"#333333","tickColor":"#333333"}},"y":{"field":"v","type":"quantitative","scale":{"domain":[-0.48,3.85],"range":[196.5,24],"nice":false,"zero":false},"axis":{"orient":"left","offset":-332.3,"values":[0,0.5,1,1.5,2,2.5,3,3.5],"labelExpr":"datum.value % 1 === 0 ? format(datum.value, 'd') : ''","tickSize":4,"labelPadding":3,"labelFontSize":14,"labelColor":"#222222","domainColor":"#333333","tickColor":"#333333","title":"Time (s)","titleFontSize":17,"titleFontWeight":"normal","titleColor":"#222222","titleX":-27,"titleY":116.7}}},
 "layer":[
  {"data":{"name":"Abar"},"mark":{"type":"bar","color":"#4759ef"},"encoding":{"y2":{"datum":-0.48}}},
  {"data":{"name":"Abar"},"mark":{"type":"rule","color":"#111111","strokeWidth":1.2},"encoding":{"y":{"field":"lo","type":"quantitative","scale":{"domain":[-0.48,3.85],"range":[196.5,24],"nice":false,"zero":false}},"y2":{"field":"hi"}}},
  {"data":{"name":"Abar"},"mark":{"type":"tick","orient":"horizontal","size":8,"thickness":1.2,"color":"#111111"},"encoding":{"y":{"field":"hi","type":"quantitative","scale":{"domain":[-0.48,3.85],"range":[196.5,24],"nice":false,"zero":false}}}},
  {"data":{"name":"Apts"},"mark":{"type":"point","shape":"diamond","filled":true,"size":42,"opacity":1},"encoding":{"color":{"field":"g","type":"nominal","scale":{"domain":["g","k","r","m"],"range":["#1a7f1a","#111111","#e8141c","#4d0f24"]},"legend":null}}},
  {"data":{"name":"Abar"},"mark":{"type":"text","text":"τ","font":"Liberation Serif","fontSize":16,"align":"right","baseline":"alphabetic","dx":1,"color":"#222222"},"encoding":{"y":{"datum":-0.784}}},
  {"data":{"name":"Abar"},"mark":{"type":"text","font":"Liberation Serif","fontSize":9.5,"align":"left","baseline":"alphabetic","dx":1,"dy":4,"color":"#222222"},"encoding":{"y":{"datum":-0.784},"text":{"field":"sub"}}}
 ]},
{"encoding":{"x":{"field":"t","type":"quantitative","scale":{"domain":[0,192.5],"range":[477.7,734.5],"nice":false,"zero":false},"axis":null},"y":{"field":"i","type":"quantitative","scale":{"domain":[-27,2.5],"range":[269.89,-0.625],"nice":false,"zero":false},"axis":null}},
 "layer":[
  {"data":{"name":"B"},"mark":{"type":"area","fill":"#111111","stroke":"#555555","strokeWidth":0.7},"encoding":{"y2":{"field":"i2"}}},
  {"data":{"name":"ann"},"transform":[{"filter":"datum.p==='B' && datum.k==='bar'"}],"mark":{"type":"rule","color":"#333333","strokeWidth":1.2},"encoding":{"x2":{"field":"t2"},"y2":{"field":"i2"}}},
  {"data":{"name":"ann"},"transform":[{"filter":"datum.p==='B' && datum.k==='capH'"}],"mark":{"type":"tick","orient":"horizontal","size":5,"thickness":1.2,"color":"#333333"}},
  {"data":{"name":"ann"},"transform":[{"filter":"datum.p==='B' && datum.k==='capV'"}],"mark":{"type":"tick","orient":"vertical","size":5,"thickness":1.2,"color":"#333333"}},
  {"data":{"name":"ann"},"transform":[{"filter":"datum.p==='B' && datum.k==='letter'"}],"mark":{"type":"text","fontSize":25,"align":"left","baseline":"alphabetic","color":"#111111"},"encoding":{"text":{"field":"s"}}},
  {"data":{"name":"ann"},"transform":[{"filter":"datum.p==='B' && datum.k==='label'"}],"mark":{"type":"text","fontSize":13,"align":"center","baseline":"middle","color":"#222222"},"encoding":{"text":{"field":"s"}}}
 ]},
{"encoding":{"x":{"field":"t","type":"quantitative","scale":{"domain":[-5,45],"range":[-0.05,333.4],"nice":false,"zero":false},"axis":null},"y":{"field":"i","type":"quantitative","scale":{"domain":[-2,36],"range":[556.64,284.18],"nice":false,"zero":false},"axis":null}},
 "layer":[
  {"data":{"name":"ann"},"transform":[{"filter":"datum.p==='C' && datum.k==='dash'"}],"mark":{"type":"rule","color":"#555555","strokeWidth":1,"strokeDash":[4,3]},"encoding":{"x2":{"field":"t2"}}},
  {"data":{"name":"C"},"mark":{"type":"area","fill":"#111111","stroke":"#555555","strokeWidth":0.6},"encoding":{"y2":{"field":"i2"}}},
  {"data":{"name":"ann"},"transform":[{"filter":"datum.p==='C' && datum.k==='bar'"}],"mark":{"type":"rule","color":"#333333","strokeWidth":1.2},"encoding":{"x2":{"field":"t2"},"y2":{"field":"i2"}}},
  {"data":{"name":"ann"},"transform":[{"filter":"datum.p==='C' && datum.k==='capH'"}],"mark":{"type":"tick","orient":"horizontal","size":5,"thickness":1.2,"color":"#333333"}},
  {"data":{"name":"ann"},"transform":[{"filter":"datum.p==='C' && datum.k==='capV'"}],"mark":{"type":"tick","orient":"vertical","size":5,"thickness":1.2,"color":"#333333"}},
  {"data":{"name":"ann"},"transform":[{"filter":"datum.p==='C' && datum.k==='letter'"}],"mark":{"type":"text","fontSize":25,"align":"left","baseline":"alphabetic","color":"#111111"},"encoding":{"text":{"field":"s"}}},
  {"data":{"name":"ann"},"transform":[{"filter":"datum.p==='C' && datum.k==='label'"}],"mark":{"type":"text","fontSize":13,"align":"center","baseline":"middle","color":"#222222"},"encoding":{"text":{"field":"s"}}},
  {"data":{"name":"ann"},"transform":[{"filter":"datum.p==='C' && datum.k==='box'"}],"mark":{"type":"rect","fill":"#587f80","fillOpacity":0.6,"stroke":"#dc3550","strokeWidth":1.5},"encoding":{"x2":{"field":"t2"},"y2":{"field":"i2"}}}
 ]},
{"encoding":{"x":{"field":"c","type":"nominal","sort":["Low G","High G"],"scale":{"domain":["Low G","High G"],"range":[242.7,363.3],"paddingInner":0.2,"paddingOuter":0.1},"axis":{"orient":"bottom","offset":-77.7,"labelAngle":0,"labelFontSize":12.5,"labelColor":"#222222","labelPadding":2,"tickSize":3,"domainColor":"#333333","tickColor":"#333333","title":"States","titleFontSize":12.5,"titleFontWeight":"normal","titleColor":"#222222","titleY":24,"titleBaseline":"middle"}},"y":{"field":"v","type":"quantitative","scale":{"domain":[0,753],"range":[473.3,375],"nice":false,"zero":false},"axis":{"orient":"left","offset":-242.7,"values":[0,200,400,600],"tickSize":3,"labelPadding":2,"labelFontSize":9,"labelColor":"#222222","domainColor":"#333333","tickColor":"#333333","title":"G (pS)","titleFontSize":15,"titleFontWeight":"normal","titleColor":"#222222","titleX":-27.7,"titleY":427.5}}},
 "layer":[
  {"data":{"name":"Cbar"},"mark":{"type":"bar","stroke":"#444444","strokeWidth":0.8},"encoding":{"color":{"field":"c","type":"nominal","scale":{"domain":["Low G","High G"],"range":["#64ec46","#8080f8"]},"legend":null}}},
  {"data":{"name":"Cbar"},"mark":{"type":"rule","color":"#111111","strokeWidth":1},"encoding":{"y":{"field":"lo","type":"quantitative","scale":{"domain":[0,753],"range":[473.3,375],"nice":false,"zero":false}},"y2":{"field":"hi"}}},
  {"data":{"name":"Cbar"},"mark":{"type":"tick","orient":"horizontal","size":6,"thickness":1,"color":"#111111"},"encoding":{"y":{"field":"hi","type":"quantitative","scale":{"domain":[0,753],"range":[473.3,375],"nice":false,"zero":false}}}},
  {"data":{"name":"Cbar"},"mark":{"type":"tick","orient":"horizontal","size":6,"thickness":1,"color":"#111111"},"encoding":{"y":{"field":"lo","type":"quantitative","scale":{"domain":[0,753],"range":[473.3,375],"nice":false,"zero":false}}}}
 ]},
{"encoding":{"x":{"field":"t","type":"quantitative","scale":{"domain":[-0.5,39.5],"range":[379.535,736.735],"nice":false,"zero":false},"axis":null},"y":{"field":"i","type":"quantitative","scale":{"domain":[-2,36],"range":[556.96,278.42],"nice":false,"zero":false},"axis":null}},
 "layer":[
  {"data":{"name":"ann"},"transform":[{"filter":"datum.p==='D' && datum.k==='dash'"}],"mark":{"type":"rule","color":"#555555","strokeWidth":1,"strokeDash":[4,3]},"encoding":{"x2":{"field":"t2"}}},
  {"data":{"name":"D"},"mark":{"type":"area","fill":"#111111","stroke":"#555555","strokeWidth":0.6},"encoding":{"y2":{"field":"i2"}}},
  {"data":{"name":"ann"},"transform":[{"filter":"datum.p==='D' && datum.k==='bar'"}],"mark":{"type":"rule","color":"#333333","strokeWidth":1.2},"encoding":{"x2":{"field":"t2"},"y2":{"field":"i2"}}},
  {"data":{"name":"ann"},"transform":[{"filter":"datum.p==='D' && datum.k==='capH'"}],"mark":{"type":"tick","orient":"horizontal","size":5,"thickness":1.2,"color":"#333333"}},
  {"data":{"name":"ann"},"transform":[{"filter":"datum.p==='D' && datum.k==='capV'"}],"mark":{"type":"tick","orient":"vertical","size":5,"thickness":1.2,"color":"#333333"}},
  {"data":{"name":"ann"},"transform":[{"filter":"datum.p==='D' && datum.k==='letter'"}],"mark":{"type":"text","fontSize":25,"align":"left","baseline":"alphabetic","color":"#111111"},"encoding":{"text":{"field":"s"}}},
  {"data":{"name":"ann"},"transform":[{"filter":"datum.p==='D' && datum.k==='label'"}],"mark":{"type":"text","fontSize":13,"align":"center","baseline":"middle","color":"#222222"},"encoding":{"text":{"field":"s"}}}
 ]}
],
"resolve":{"scale":{"x":"independent","y":"independent","color":"independent"},"axis":{"x":"independent","y":"independent"}}
}
